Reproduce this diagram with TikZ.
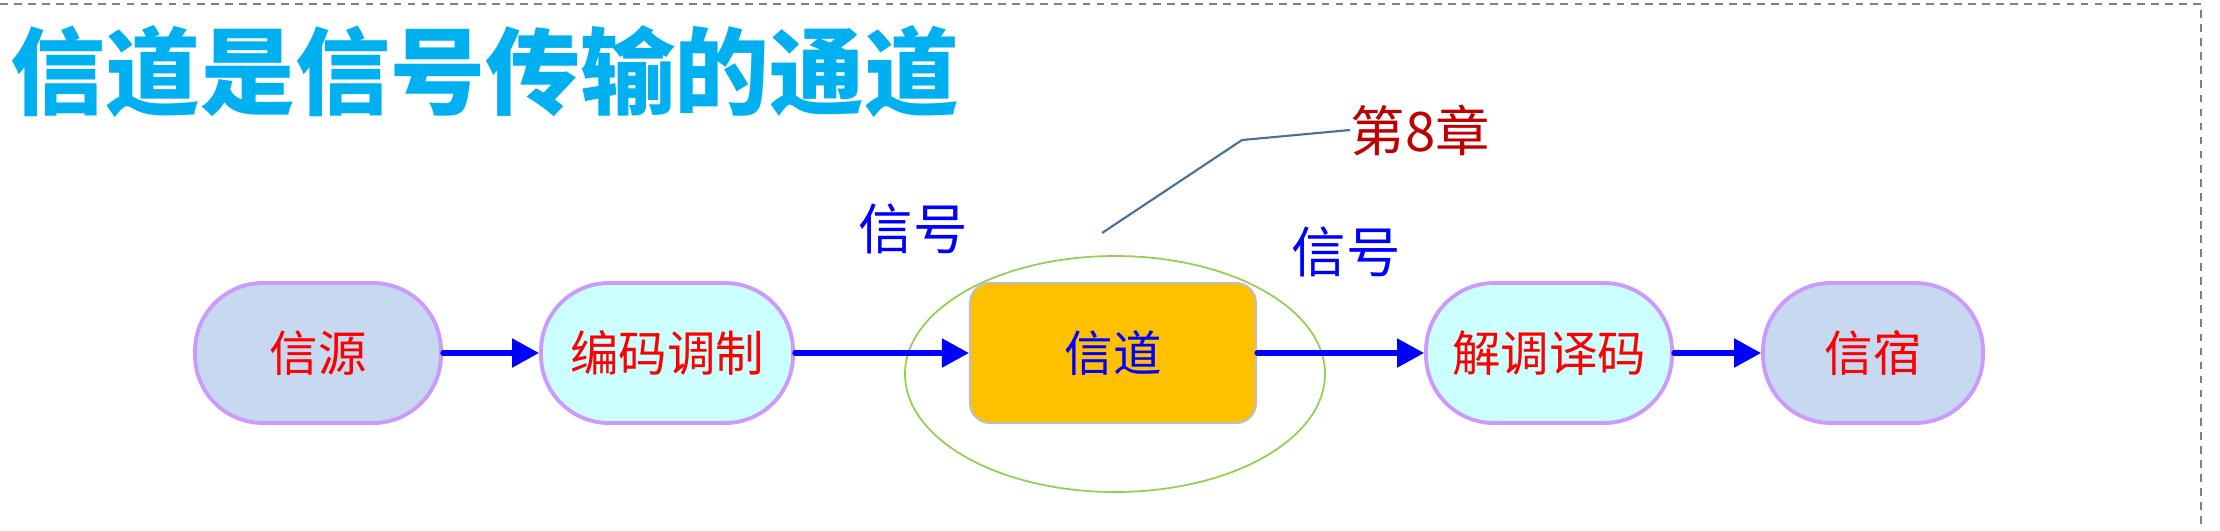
\documentclass[tikz,border=0pt]{standalone}
\usepackage{fontspec}
\setmainfont{Noto Sans CJK SC}
\usepackage{tikz}
\usetikzlibrary{arrows.meta}
\definecolor{titleblue}{RGB}{0,176,240}
\definecolor{endfill}{RGB}{198,217,240}
\definecolor{codecfill}{RGB}{204,255,255}
\definecolor{rimpurple}{RGB}{204,153,255}
\definecolor{chanfill}{RGB}{255,192,0}
\definecolor{ringgreen}{RGB}{146,208,80}
\definecolor{chapred}{RGB}{192,0,0}
\definecolor{calloutblue}{RGB}{70,112,150}
\newcommand{\SIZE}[1]{\fontsize{#1}{#1}\selectfont}

\begin{document}
\begin{tikzpicture}[
    stadium/.style={draw=rimpurple, line width=1.1pt, rounded corners=0.68cm,
        minimum height=1.40cm, text=red, font=\SIZE{13.8pt}},
    endbox/.style={stadium, fill=endfill},
    codecbox/.style={stadium, fill=codecfill},
    sigarrow/.style={blue, line width=1.5pt, line cap=round, -{Triangle[length=0.27cm,width=0.28cm]}},
    siglabel/.style={text=blue, font=\SIZE{15.5pt}}
]
    \useasboundingbox (0,0) rectangle (22.2,-5.3);

    \draw[gray, line width=0.6pt, dash pattern=on 2.2pt off 1.8pt] (0,-0.04) -- (22.01,-0.04) -- (22.01,-5.3);

    \node[anchor=west, inner sep=0, text=titleblue, font=\SIZE{27pt}\bfseries] (title) at (0.10,-0.72) {信道是信号传输的通道};

    \draw[ringgreen, line width=0.5pt] (11.15,-3.74) ellipse (2.10 and 1.18);

    \node[endbox, minimum width=2.46cm] (src) at (3.18,-3.53) {信源};
    \node[codecbox, minimum width=2.52cm] (enc) at (6.67,-3.53) {编码调制};
    \node[draw=gray!50, line width=0.6pt, fill=chanfill, rounded corners=0.2cm,
        minimum width=2.86cm, minimum height=1.40cm, text=blue, font=\SIZE{13.8pt}] (chan) at (11.13,-3.53) {信道};
    \node[codecbox, minimum width=2.46cm] (dec) at (15.49,-3.53) {解调译码};
    \node[endbox, minimum width=2.20cm] (sink) at (18.73,-3.53) {信宿};

    \draw[sigarrow] (src) -- (enc);
    \draw[sigarrow] (enc) -- (chan);
    \draw[sigarrow] (chan) -- (dec);
    \draw[sigarrow] (dec) -- (sink);

    \node[siglabel] (sigin) at (9.13,-2.29) {信号};
    \node[siglabel] (sigout) at (13.46,-2.52) {信号};

    \node[anchor=west, inner sep=0, text=chapred, font=\SIZE{15.5pt}] (chap) at (13.50,-1.30) {第8章};
    \coordinate (tail) at (11.02,-2.33);
    \coordinate (knee) at (12.42,-1.40);
    \draw[calloutblue, line width=0.6pt] (tail) -- (knee) -- (chap.west);
\end{tikzpicture}
\end{document}
